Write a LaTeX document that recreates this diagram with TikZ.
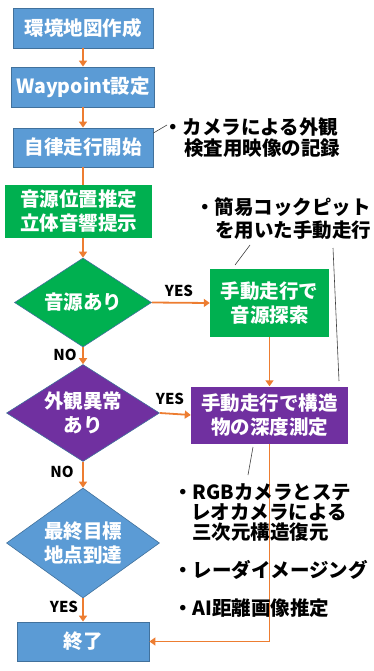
\documentclass[tikz,border=0pt]{standalone}
\usepackage{fontspec}
\setmainfont{Noto Sans CJK JP}
\usetikzlibrary{shapes.geometric,arrows.meta}
\definecolor{boxblue}{HTML}{5B9BD5}
\definecolor{blueline}{HTML}{41719C}
\definecolor{boxgreen}{HTML}{00B050}
\definecolor{boxpurple}{HTML}{7030A0}
\definecolor{flow}{HTML}{ED7D31}
\definecolor{leadgray}{HTML}{404040}
\begin{document}
\begin{tikzpicture}[x=1pt,y=-1pt,
  boxtext/.style={inner sep=0pt, text=white, align=center,
    font=\fontsize{19.5}{24}\selectfont\bfseries},
  bluebox/.style={boxtext, rectangle, fill=boxblue, draw=blueline, line width=0.8pt},
  greenbox/.style={boxtext, rectangle, fill=boxgreen},
  purplebox/.style={boxtext, rectangle, fill=boxpurple},
  decision/.style={diamond, inner sep=0pt, draw=blueline, line width=0.6pt},
  flowarr/.style={draw=flow, line width=1.8pt, -{Triangle[length=6pt,width=8pt]}},
  flowline/.style={draw=flow, line width=1.8pt},
  leader/.style={draw=leadgray, line width=0.6pt},
  anot/.style={inner sep=0pt, anchor=west, text=black,
    font=\fontsize{19.5}{20}\selectfont\bfseries},
  yn/.style={inner sep=0pt, text=black, font=\fontsize{15}{15}\selectfont\bfseries}
]
\useasboundingbox (0,0) rectangle (374,671);

% process boxes
\node[bluebox, minimum width=140pt, minimum height=40pt] (n1) at (83,28) {環境地図作成};
\node[bluebox, minimum width=143pt, minimum height=40pt] (n2) at (83,87) {Waypoint設定};
\node[bluebox, minimum width=140pt, minimum height=39pt] (n3) at (83,147.5) {自律走行開始};
\node[greenbox, minimum width=147pt, minimum height=53pt] (n4) at (78.5,211.5) {音源位置推定\\立体音響提示};

% decisions
\node[decision, fill=boxgreen, minimum width=137pt, minimum height=89pt] (d1) at (83,302.5) {};
\node[boxtext] at (d1.center) {音源あり};
\node[decision, fill=boxpurple, minimum width=153pt, minimum height=97pt] (d2) at (83,413) {};
\node[boxtext] at (d2.center) {外観異常\\あり};
\node[decision, fill=boxblue, minimum width=153pt, minimum height=110pt] (d3) at (83,543) {};
\node[boxtext] at (d3.center) {最終目標\\地点到達};

% manual boxes
\node[greenbox, minimum width=119pt, minimum height=68pt] (g2) at (269.5,303) {手動走行で\\音源探索};
\node[purplebox, minimum width=157pt, minimum height=57pt] (p2) at (269.5,415) {手動走行で構造\\物の深度測定};

% end
\node[bluebox, minimum width=132pt, minimum height=39pt] (e) at (83,641.5) {終了};

% flow connectors
\draw[flowarr] (n1.south) -- (n2.north);
\draw[flowarr] (n2.south) -- (n3.north);
\draw[flowline] (n3.south) -- (n3.south |- n4.north);
\draw[flowarr] (n4.south -| d1.north) -- (d1.north);
\draw[flowarr] (d1.east) -- (g2.west);
\draw[flowarr] (d1.south) -- (d2.north);
\draw[flowarr] (d2.east) -- (p2.west);
\draw[flowarr] (g2.south -| p2.north) -- (p2.north);
\draw[flowarr] (d2.south) -- (d3.north);
\draw[flowarr] (d3.south) -- (e.north);
\draw[flowarr] (p2.south) |- (e.east);

% yes / no labels
\node[yn] (y1) at (179,291) {YES};
\node[yn] (no1) at (65,355) {NO};
\node[yn] (y2) at (170,399) {YES};
\node[yn] (no2) at (62,472) {NO};
\node[yn] (y3) at (64,607) {YES};

% annotations
\node[anot] (a1a) at (163,127) {・カメラによる外観};
\node[anot] (a1b) at (184,148) {検査用映像の記録};
\node[anot] (a2a) at (195,207) {・簡易コックピット};
\node[anot] (a2b) at (215,230) {を用いた手動走行};
\node[anot] (a3a) at (173,492) {・RGBカメラとステ};
\node[anot] (a3b) at (191,512) {レオカメラによる};
\node[anot] (a3c) at (192,532) {三次元構造復元};
\node[anot] (a4) at (173,570) {・レーダイメージング};
\node[anot] (a5) at (173,608) {・AI距離画像推定};

% leader lines
\coordinate (l1) at (167,125);
\draw[leader] (n3.east |- 0,133) -- (l1);
\coordinate (l2a) at (235,265);
\coordinate (l2b) at (250,245);
\draw[leader] (l2a) -- (l2b);
\coordinate (l3a) at (333,248);
\coordinate (l3b) at (339,381);
\draw[leader] (l3a) -- (l3b);
\coordinate (l4a) at (253,447);
\coordinate (l4b) at (248,475);
\draw[leader] (l4a) -- (l4b);
\end{tikzpicture}
\end{document}
